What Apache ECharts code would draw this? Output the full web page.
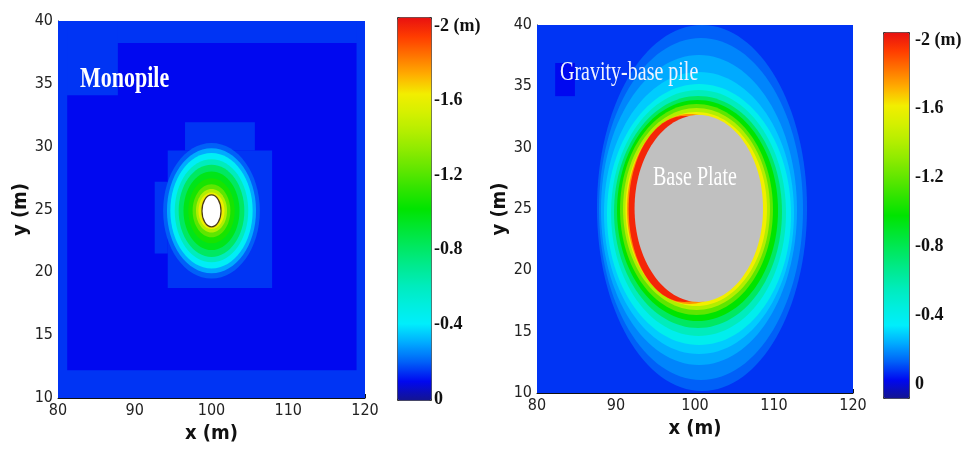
<!DOCTYPE html>
<html><head><meta charset="utf-8">
<script src="https://cdn.jsdelivr.net/npm/echarts@6/dist/echarts.min.js"></script>
<style>html,body{margin:0;padding:0;background:#fff}#c{width:976px;height:451px}</style>
</head><body><div id="c"></div>
<script>
// ---------- axes / ticks ----------
const xTicks = [80, 90, 100, 110, 120];
const yTicks = [10, 15, 20, 25, 30, 35, 40];
const depthTicks = [-2, -1.6, -1.2, -0.8, -0.4, 0];
// jet-like colour scale, one colour every 0.1 m from -2 (red) to 0 (navy)
const jetColors = ['#e81010','#ff3c00','#ff7400','#ffae00','#f2ee00','#d4f000','#b2ee00','#8aea00',
  '#5ee600','#2ee400','#00e400','#00e632','#00e862','#00ea90','#00ecbc','#00eede','#00eefc',
  '#00aaff','#0060f8','#0008f0','#141490'];

// ---------- Monopile panel: [depth, x0, x1, y0, y1] ----------
const monoPatches = [
  [-0.10, 80, 120, 10, 40],
  [-0.15, 80, 120, 38.25, 40],
  [-0.15, 80, 87.8, 34.1, 40],
  [-0.15, 80, 81.2, 10, 40],
  [-0.15, 118.9, 120, 10, 40],
  [-0.15, 80, 120, 10, 12.2],
  [-0.15, 94.3, 107.9, 18.75, 29.7],
  [-0.15, 96.55, 105.65, 29.7, 31.95],
  [-0.15, 92.6, 94.3, 21.5, 27.2]
];
const monoContours = [
  [-0.20, 93.70, 106.30, 19.50, 30.30],
  [-0.30, 94.20, 105.80, 19.93, 29.87],
  [-0.42, 94.64, 105.36, 20.31, 29.49],
  [-0.60, 95.21, 104.79, 20.80, 29.00],
  [-0.80, 95.72, 104.28, 21.23, 28.57],
  [-0.95, 96.35, 103.65, 21.77, 28.03],
  [-1.05, 96.98, 103.02, 22.31, 27.49],
  [-1.20, 97.54, 102.46, 22.79, 27.01],
  [-1.40, 97.98, 102.02, 23.17, 26.63],
  [-1.58, 98.30, 101.70, 23.44, 26.36]
];
const monoPile = [[98.76, 101.24, 23.62, 26.16]];

// ---------- Gravity-base panel: [depth, x0, x1, y0, y1] ----------
const gbPatches = [
  [-0.15, 80, 120, 10, 40],
  [-0.10, 82.3, 84.8, 34.2, 36.9]
];
const gbContours = [
  [-0.20, 87.59, 114.18, 10.16, 40.0],
  [-0.25, 87.85, 113.67, 11.06, 38.94],
  [-0.30, 88.10, 112.91, 12.28, 37.55],
  [-0.35, 88.48, 112.53, 13.18, 36.17],
  [-0.45, 88.86, 112.15, 13.91, 35.19],
  [-0.60, 89.37, 111.52, 14.65, 34.70],
  [-0.80, 89.75, 111.01, 15.30, 34.21],
  [-1.00, 90.13, 110.51, 15.87, 33.89],
  [-1.20, 90.51, 109.87, 16.36, 33.56],
  [-1.40, 90.89, 109.49, 16.77, 33.23],
  [-1.60, 91.20, 109.11, 17.09, 32.91],
  [-1.75, 91.40, 107.22, 17.26, 32.74],
  [-1.95, 91.60, 105.70, 17.42, 32.58]
];
const gbPlate = [[92.35, 108.61, 17.42, 32.66]];

// ---------- rendering helpers ----------
function box(api, o) {
  const a = api.coord([api.value(o), api.value(o + 3)]);
  const b = api.coord([api.value(o + 1), api.value(o + 2)]);
  return {x0: a[0], y0: a[1], x1: b[0], y1: b[1]};
}
function rectItem(params, api) {
  const r = box(api, 1);
  return {type: 'rect', shape: {x: r.x0, y: r.y0, width: r.x1 - r.x0, height: r.y1 - r.y0},
    style: {fill: api.visual('color')}};
}
function ellipseItem(params, api) {
  const r = box(api, 1);
  return {type: 'ellipse', shape: {cx: (r.x0 + r.x1) / 2, cy: (r.y0 + r.y1) / 2,
    rx: (r.x1 - r.x0) / 2, ry: (r.y1 - r.y0) / 2}, style: {fill: api.visual('color')}};
}
function solidEllipse(fill, stroke, lw) {
  return function (params, api) {
    const r = box(api, 0);
    return {type: 'ellipse', shape: {cx: (r.x0 + r.x1) / 2, cy: (r.y0 + r.y1) / 2,
      rx: (r.x1 - r.x0) / 2, ry: (r.y1 - r.y0) / 2}, style: {fill: fill, stroke: stroke, lineWidth: lw}};
  };
}

const tickFont = "'Liberation Sans Narrow','DejaVu Sans Condensed',sans-serif";
function plotX(gi) {
  return {gridIndex: gi, type: 'value', min: xTicks[0], max: xTicks[xTicks.length - 1], interval: xTicks[1] - xTicks[0],
    splitLine: {show: false}, axisLine: {show: true, onZero: false, lineStyle: {color: '#111', width: 1}},
    axisTick: {show: true, inside: true, length: 4, lineStyle: {color: '#111'}},
    axisLabel: {fontFamily: tickFont, fontSize: 16, color: '#222', margin: 5},
    name: 'x (m)', nameLocation: 'middle', nameGap: 24,
    nameTextStyle: {fontFamily: tickFont, fontWeight: 'bold', fontSize: 20, color: '#111'}};
}
function plotY(gi, gap) {
  return {gridIndex: gi, type: 'value', min: yTicks[0], max: yTicks[yTicks.length - 1], interval: yTicks[1] - yTicks[0],
    splitLine: {show: false}, axisLine: {show: true, onZero: false, lineStyle: {color: '#111', width: 1}},
    axisTick: {show: true, inside: true, length: 4, lineStyle: {color: '#111'}},
    axisLabel: {fontFamily: tickFont, fontSize: 16, color: '#222', margin: 5},
    name: 'y (m)', nameLocation: 'middle', nameGap: gap,
    nameTextStyle: {fontFamily: tickFont, fontWeight: 'bold', fontSize: 20, color: '#111'}};
}
function barY(gi, margin) {
  return {gridIndex: gi, type: 'value', min: depthTicks[0], max: depthTicks[depthTicks.length - 1], interval: 0.4,
    inverse: true, position: 'right', splitLine: {show: false}, axisLine: {show: false}, axisTick: {show: false},
    axisLabel: {margin: margin, fontFamily: "'Liberation Serif',serif", fontWeight: 'bold', fontSize: 18, color: '#111',
      formatter: function (v) { const r = Math.round(v * 10) / 10; return r === depthTicks[0] ? r + ' (m)' : String(r === 0 ? 0 : r); }}};
}
function colorBar(series, left, top, w, h) {
  return {type: 'continuous', min: depthTicks[0], max: depthTicks[depthTicks.length - 1], dimension: 0,
    seriesIndex: series, inverse: true, calculable: false, orient: 'vertical', left: left, top: top,
    itemWidth: w, itemHeight: h, padding: 0, borderColor: '#333', borderWidth: 1,
    inRange: {color: jetColors}, hoverLink: false};
}

const chart = echarts.init(document.getElementById('c'), null, {renderer: 'canvas'});
chart.setOption({
  animation: false,
  backgroundColor: '#fff',
  grid: [
    {left: 58, top: 21, width: 307, height: 377},
    {left: 537, top: 25, width: 316, height: 368},
    {left: 397, top: 26, width: 34, height: 373},
    {left: 883, top: 40, width: 26, height: 344}
  ],
  xAxis: [plotX(0), plotX(1),
    {gridIndex: 2, type: 'value', show: false}, {gridIndex: 3, type: 'value', show: false}],
  yAxis: [plotY(0, 22), plotY(1, 15), barY(2, 3), barY(3, 6)],
  visualMap: [colorBar([0, 1], 397, 17, 34, 383), colorBar([3, 4], 883, 32, 26, 366)],
  series: [
    {type: 'custom', xAxisIndex: 0, yAxisIndex: 0, data: monoPatches, renderItem: rectItem, clip: true,
      encode: {x: [1, 2], y: [3, 4]}, silent: true},
    {type: 'custom', xAxisIndex: 0, yAxisIndex: 0, data: monoContours, renderItem: ellipseItem, clip: true,
      encode: {x: [1, 2], y: [3, 4]}, silent: true},
    {type: 'custom', xAxisIndex: 0, yAxisIndex: 0, data: monoPile, renderItem: solidEllipse('#ffffff', '#4a3a18', 1.2),
      encode: {x: [0, 1], y: [2, 3]}, silent: true},
    {type: 'custom', xAxisIndex: 1, yAxisIndex: 1, data: gbPatches, renderItem: rectItem, clip: true,
      encode: {x: [1, 2], y: [3, 4]}, silent: true},
    {type: 'custom', xAxisIndex: 1, yAxisIndex: 1, data: gbContours, renderItem: ellipseItem, clip: true,
      encode: {x: [1, 2], y: [3, 4]}, silent: true},
    {type: 'custom', xAxisIndex: 1, yAxisIndex: 1, data: gbPlate, renderItem: solidEllipse('#c0c0c0', null, 0),
      encode: {x: [0, 1], y: [2, 3]}, silent: true}
  ],
  graphic: [
    {type: 'text', x: 80, y: 65, scaleY: 1.3, z: 100,
      style: {text: 'Monopile', fill: '#ffffff', fontFamily: "'Liberation Serif',serif", fontWeight: 'bold', fontSize: 22, verticalAlign: 'top'}},
    {type: 'text', x: 560, y: 59, scaleY: 1.35, z: 100,
      style: {text: 'Gravity-base pile', fill: '#eef2ff', fontFamily: "'Liberation Serif',serif", fontSize: 20, verticalAlign: 'top'}},
    {type: 'text', x: 653, y: 164, scaleY: 1.4, z: 100,
      style: {text: 'Base Plate', fill: '#ffffff', fontFamily: "'Liberation Serif',serif", fontSize: 20, verticalAlign: 'top'}}
  ]
});
</script></body></html>
